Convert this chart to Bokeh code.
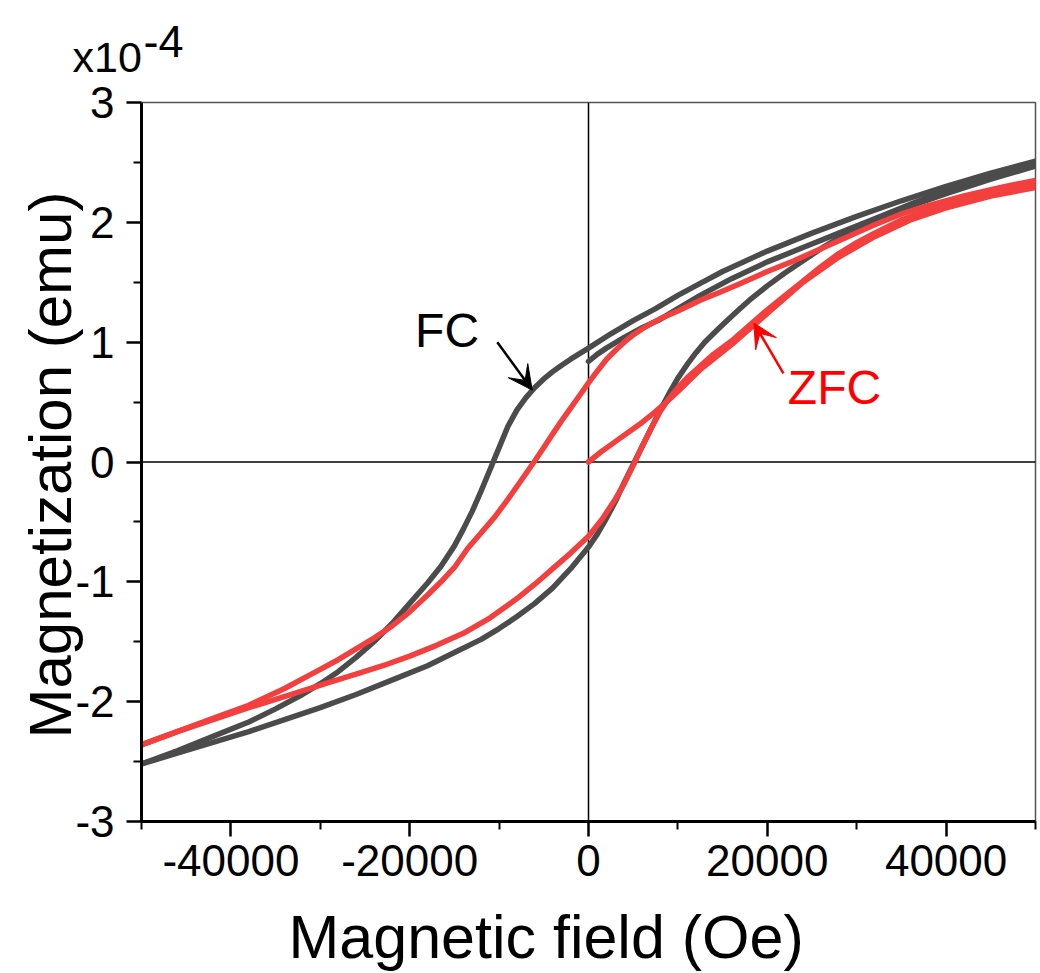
import math
from bokeh.plotting import figure
from bokeh.models import Range1d, FixedTicker, Span, Label, Arrow, VeeHead, Title
from bokeh.embed import file_html
from bokeh.resources import INLINE

# ---- data: field in Oe, magnetization in units of 1e-4 emu ----
fc_init_x = [0, 1000, 2000, 4000, 6000, 8000, 10000, 12500, 16000, 20000, 24000, 28000, 32000, 36000, 40000, 45000, 50000]
fc_init_y = [0.84, 0.90, 0.95, 1.04, 1.12, 1.19, 1.28, 1.39, 1.53, 1.67, 1.79, 1.91, 2.03, 2.15, 2.27, 2.39, 2.50]

fc_down_x = [50000, 45000, 40000, 35000, 30000, 25000, 20000, 15000, 12500, 10000, 7500, 5000, 2500, 0,
             -1000, -2000, -3000, -4000, -5000, -6000, -7000, -8000, -9000, -10000, -10500, -11000, -12000,
             -13000, -14000, -15000, -16500, -18000, -20000, -22000, -24000, -26000, -28000, -30000, -32000,
             -35000, -38000, -42000, -46000, -50000]
fc_down_y = [2.51, 2.41, 2.30, 2.18, 2.05, 1.91, 1.76, 1.59, 1.49, 1.39, 1.28, 1.18, 1.07, 0.95,
             0.905, 0.858, 0.808, 0.754, 0.693, 0.622, 0.537, 0.435, 0.30, 0.12, 0.03, -0.06, -0.24,
             -0.41, -0.56, -0.70, -0.87, -1.01, -1.18, -1.35, -1.50, -1.63, -1.75, -1.85, -1.94,
             -2.06, -2.17, -2.29, -2.41, -2.52]

fc_up_x = [-50000, -46000, -42000, -38000, -34000, -30000, -26000, -22000, -18000, -15000, -12000, -10000,
           -8000, -6000, -4000, -2000, 0, 1000, 2000, 3000, 4000, 5000, 6000, 7000, 8000, 9000, 10000,
           11000, 12000, 13000, 14500, 16500, 18000, 20000, 22000, 24000, 26000, 28000, 30000, 32000,
           35000, 40000, 45000, 50000]
fc_up_y = [-2.52, -2.43, -2.34, -2.25, -2.15, -2.05, -1.94, -1.82, -1.70, -1.59, -1.48, -1.39,
           -1.29, -1.18, -1.05, -0.89, -0.71, -0.60, -0.47, -0.33, -0.17, -0.02, 0.13, 0.28, 0.43, 0.57, 0.70,
           0.81, 0.91, 1.00, 1.11, 1.25, 1.35, 1.47, 1.58, 1.68, 1.78, 1.87, 1.95, 2.02,
           2.11, 2.24, 2.36, 2.47]

zfc_init_x = [0, 1500, 3000, 4500, 6000, 7500, 9000, 10300, 12500, 16000, 20000, 24000, 28000, 32000, 36000, 40000, 45000, 50000]
zfc_init_y = [0.0, 0.09, 0.17, 0.25, 0.33, 0.42, 0.52, 0.61, 0.77, 0.98, 1.24, 1.50, 1.71, 1.88, 2.02, 2.12, 2.22, 2.29]

zfc_down_x = [50000, 46000, 42000, 38000, 35000, 32000, 29000, 26000, 23000, 20000, 17000, 14500, 12500,
              10000, 8000, 7000, 6000, 5000, 4000, 3000, 2000, 1000, 0, -1000, -2000, -3000, -4000, -5000,
              -6000, -7500, -9000, -10500, -12000, -13500, -15000, -16500, -18000, -20000, -22000, -24000,
              -26000, -28000, -31000, -34000, -38000, -42000, -46000, -50000]
zfc_down_y = [2.35, 2.29, 2.22, 2.14, 2.07, 1.98, 1.88, 1.78, 1.68, 1.59, 1.49, 1.41, 1.35,
              1.26, 1.195, 1.155, 1.11, 1.06, 1.00, 0.93, 0.855, 0.76, 0.66, 0.555, 0.45, 0.345, 0.235, 0.12,
              0.01, -0.15, -0.31, -0.46, -0.59, -0.72, -0.88, -1.00, -1.11, -1.25, -1.37, -1.47,
              -1.56, -1.65, -1.77, -1.89, -2.03, -2.14, -2.25, -2.36]

zfc_up_x = [-50000, -46000, -42000, -38000, -35000, -32000, -29000, -26000, -23000, -20000, -17000, -14000,
            -11000, -8000, -6000, -4000, -2000, 0, 1500, 3000, 4000, 5000, 6000, 7000, 8000, 9000, 10000,
            11000, 12500, 14000, 16000, 18000, 20000, 22000, 24000, 26000, 28000, 30000, 32000, 35000,
            38000, 42000, 46000, 50000]
zfc_up_y = [-2.36, -2.25, -2.15, -2.05, -1.98, -1.91, -1.84, -1.77, -1.70, -1.62, -1.53, -1.43,
            -1.30, -1.14, -1.02, -0.89, -0.76, -0.62, -0.48, -0.31, -0.18, -0.03, 0.13, 0.28, 0.42, 0.53, 0.62,
            0.70, 0.80, 0.90, 1.01, 1.14, 1.27, 1.39, 1.51, 1.63, 1.74, 1.83, 1.91, 2.02,
            2.10, 2.19, 2.26, 2.32]

x_ticks = [-40000, -20000, 0, 20000, 40000]
x_minor = [-50000, -30000, -10000, 10000, 30000, 50000]
y_ticks = [-3, -2, -1, 0, 1, 2, 3]
y_minor = [-2.5, -1.5, -0.5, 0.5, 1.5, 2.5]

x_title = "Magnetic field (Oe)"
y_title = "Magnetization (emu)"

FONT = "Liberation Sans"
GRAY = "#4b4b4b"
RED = "#f43f3f"

p = figure(width=1040, height=973, output_backend="svg", toolbar_location=None,
           x_range=Range1d(-50000, 50000), y_range=Range1d(-3, 3),
           min_border_left=141, min_border_right=5, min_border_top=102, min_border_bottom=151,
           background_fill_color="white", border_fill_color="white")
p.xgrid.visible = False
p.ygrid.visible = False
p.outline_line_color = "#555555"
p.outline_line_width = 1.5

for ax, ticks, minor in ((p.xaxis[0], x_ticks, x_minor), (p.yaxis[0], y_ticks, y_minor)):
    ax.ticker = FixedTicker(ticks=ticks, minor_ticks=minor)
    ax.major_label_overrides = {t: str(t) for t in ticks}
    ax.axis_line_width = 3
    ax.axis_line_color = "black"
    ax.major_tick_line_width = 2.5
    ax.minor_tick_line_width = 2
    ax.major_tick_out = 15
    ax.major_tick_in = 0
    ax.minor_tick_out = 8
    ax.minor_tick_in = 0
    ax.major_label_text_font = FONT
    ax.major_label_text_font_size = "44px"
    ax.major_label_text_color = "black"
p.xaxis[0].major_label_standoff = 8
p.yaxis[0].major_label_standoff = 12

# x title as the axis label; trailing no-break spaces shift its centre left as in the reference
xa = p.xaxis[0]
xa.axis_label = x_title + "\u00a0" * 5
xa.axis_label_text_font = FONT
xa.axis_label_text_font_size = "61px"
xa.axis_label_text_font_style = "normal"
xa.axis_label_text_color = "black"
xa.axis_label_standoff = 24

p.add_layout(Span(location=0, dimension="width", line_color="black", line_width=1.5, level="underlay"))
p.add_layout(Span(location=0, dimension="height", line_color="black", line_width=1.5, level="underlay"))

lw = 5.5
for xs, ys in ((fc_init_x, fc_init_y), (fc_down_x, fc_down_y), (fc_up_x, fc_up_y)):
    p.line(xs, ys, line_color=GRAY, line_width=lw, line_join="round", line_cap="round")
for xs, ys in ((zfc_init_x, zfc_init_y), (zfc_down_x, zfc_down_y), (zfc_up_x, zfc_up_y)):
    p.line(xs, ys, line_color=RED, line_width=lw, line_join="round", line_cap="round")

# annotations inside the frame
p.add_layout(Label(x=-19400, y=1.10, text="FC", text_font=FONT, text_font_size="48px",
                   text_color="black", text_baseline="alphabetic"))
p.add_layout(Arrow(x_start=-10200, y_start=1.0, x_end=-6300, y_end=0.6, line_color="black", line_width=2.5,
                   end=VeeHead(size=24, fill_color="black", line_color="black")))
p.add_layout(Label(x=22300, y=0.62, text="ZFC", text_font=FONT, text_font_size="48px",
                   text_color="#ff0000", text_baseline="alphabetic"))
p.add_layout(Arrow(x_start=21800, y_start=0.74, x_end=18500, y_end=1.16, line_color="#ff0000", line_width=2.5,
                   end=VeeHead(size=24, fill_color="#ff0000", line_color="#ff0000")))

# multiplier and y title, as titles in the side panels
p.add_layout(Title(text="x10", text_font=FONT, text_font_size="43px", text_font_style="normal",
                   text_color="black", align="left", offset=-69, standoff=44), "above")
p.add_layout(Title(text="-4", text_font=FONT, text_font_size="45px", text_font_style="normal",
                   text_color="black", align="left", offset=2, standoff=-96), "above")
p.add_layout(Title(text=y_title, text_font=FONT, text_font_size="60px", text_font_style="normal",
                   text_color="black", align="left", offset=83, vertical_align="bottom", standoff=-22), "left")

open("out.html", "w").write(file_html(p, INLINE))
